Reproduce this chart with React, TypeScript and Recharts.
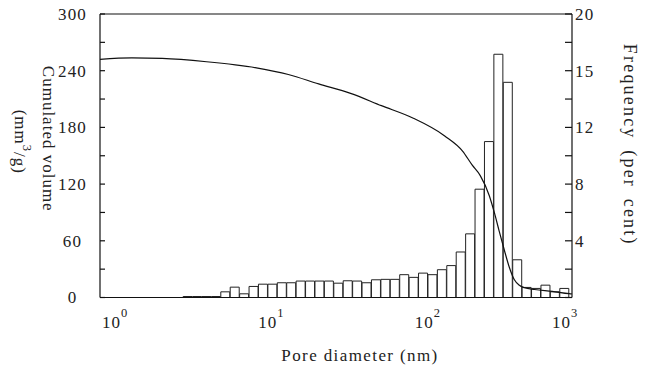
import { ComposedChart, Bar, Line, XAxis, YAxis, ReferenceLine } from 'recharts'

// histogram bins are 2^(1/5) wide, the last one closing at 1000 nm
const BIN_TOP = 1000
const BIN_STEP = Math.pow(2, 1 / 5)

// frequency (per cent), bins from left to right
const frequency = [
  0.07, 0.07, 0.07, 0.07, 0.4, 0.73, 0.26, 0.78, 0.94, 0.94, 1.04, 1.04, 1.16, 1.16,
  1.16, 1.16, 1.01, 1.18, 1.16, 1.04, 1.25, 1.28, 1.28, 1.61, 1.42, 1.72, 1.61, 1.96,
  2.25, 3.21, 4.49, 7.64, 11.0, 17.16, 15.18, 2.66, 0.71, 0.64, 0.87, 0.4, 0.64,
]

// cumulated volume curve (mm3/g) against pore diameter (nm)
const poreSize = [
  1, 1.6, 2.5, 4.8, 10, 16, 25, 40, 63, 100, 160, 208, 240, 270, 308, 332, 357, 385, 414,
  445, 480, 516, 600, 780, 1000, 1040,
]
const cumVolume = [
  252, 253.5, 253, 249.5, 243, 236, 226, 216, 203, 190, 171, 155, 140, 129, 108, 90, 70, 50,
  32, 19, 13, 10.5, 8.5, 6.5, 4, 3.8,
]

const xTicks = [1, 10, 100, 1000]
const leftTicks = [0, 30, 60, 90, 120, 150, 180, 210, 240, 270, 300]
const rightTicks = [0, 2, 4, 6, 8, 10, 12, 14, 16, 18, 20]
const rightLabels: Record<number, string> = { 4: '4', 8: '8', 12: '12', 16: '15', 20: '20' }

const binData = frequency.map((freq, i) => ({
  d: BIN_TOP / Math.pow(BIN_STEP, frequency.length - i - 0.5),
  freq,
}))
const curveData = poreSize.map((d, i) => ({ d, vol: cumVolume[i] }))

// the svg sits at (8, 8) because of the body margin
const W = 643
const H = 361
const TOP = 6
const LEFT_W = 92
const RIGHT_W = 79
const X_H = 71.5
const PLOT_BOTTOM = H - X_H
const PLOT_MID_Y = (TOP + PLOT_BOTTOM) / 2
const INK = '#111'
const TEXT = '#222'
const FONT = "'Liberation Serif', 'DejaVu Serif', serif"
const textStyle = { fontFamily: FONT }

const XTick = ({ x, y, payload }: any) => {
  const exp = Math.round(Math.log10(payload.value))
  const cx = exp === 3 ? x - 4 : x + 15
  return (
    <text x={cx} y={y + 30.5} textAnchor="middle" fontSize={17} fill={TEXT} style={textStyle} letterSpacing={1}>
      10
      <tspan dy={-11.5} fontSize={12.5}>{exp}</tspan>
    </text>
  )
}

const LeftTick = ({ x, y, payload }: any) => (
  <g>
    <line x1={x} x2={x + 5} y1={y} y2={y} stroke={INK} strokeWidth={1.2} />
    {payload.value % 60 === 0 && (
      <text x={x - 27.5} y={y} dy="0.35em" textAnchor="middle" fontSize={17} fill={TEXT} style={textStyle} letterSpacing={1.2}>
        {payload.value}
      </text>
    )}
  </g>
)

const RightTick = ({ x, y, payload }: any) => (
  <g>
    <line x1={x} x2={x - 7} y1={y} y2={y} stroke={INK} strokeWidth={1.2} />
    {rightLabels[payload.value] && (
      <text x={x + 3} y={y} dy="0.35em" textAnchor="start" fontSize={17} fill={TEXT} style={textStyle} letterSpacing={1.2}>
        {rightLabels[payload.value]}
      </text>
    )}
  </g>
)

const LeftTitle = () => {
  const c1 = { x: 40, y: PLOT_MID_Y - 17 }
  const c2 = { x: 12, y: PLOT_MID_Y - 14 }
  return (
    <g fill={TEXT} fontSize={17} style={textStyle}>
      <text x={c1.x} y={c1.y} transform={`rotate(90, ${c1.x}, ${c1.y})`} textAnchor="middle" dominantBaseline="central" letterSpacing={1}>
        Cumulated volume
      </text>
      <text x={c2.x} y={c2.y} transform={`rotate(90, ${c2.x}, ${c2.y})`} textAnchor="middle" dominantBaseline="central" letterSpacing={1}>
        (mm<tspan dy={-7} fontSize={12.5}>3</tspan>
        <tspan dy={7}>/g)</tspan>
      </text>
    </g>
  )
}

const RightTitle = () => {
  const cx = W - RIGHT_W + 58
  const cy = PLOT_MID_Y - 11
  return (
    <text x={cx} y={cy} transform={`rotate(90, ${cx}, ${cy})`} textAnchor="middle" dominantBaseline="central"
      fontSize={18} fill={TEXT} style={textStyle} letterSpacing={2.2} wordSpacing={4}>
      Frequency (per cent)
    </text>
  )
}

const XTitle = () => (
  <text x={LEFT_W + (W - LEFT_W - RIGHT_W) / 2 + 24} y={PLOT_BOTTOM + 63} textAnchor="middle"
    fontSize={17} fill={TEXT} style={textStyle} letterSpacing={1.4}>
    Pore diameter (nm)
  </text>
)

export default function App() {
  return (
    <div style={{ width: W, height: H, background: '#fff' }}>
      <style>{'.recharts-surface { overflow: visible; }'}</style>
      <ComposedChart
        width={W}
        height={H}
        data={binData}
        margin={{ top: TOP, right: 0, bottom: 0, left: 0 }}
        barCategoryGap={0}
        barGap={0}
      >
        <XAxis
          dataKey="d"
          type="number"
          scale="log"
          domain={[1, 1042]}
          allowDataOverflow
          ticks={xTicks}
          height={X_H}
          tickSize={0}
          tickMargin={0}
          tickLine={false}
          tick={<XTick />}
          axisLine={{ stroke: INK, strokeWidth: 1.2 }}
          label={{ content: XTitle }}
        />
        <XAxis xAxisId="line" dataKey="d" type="number" scale="log" domain={[1, 1042]} allowDataOverflow hide />
        <YAxis
          yAxisId="left"
          domain={[0, 300]}
          ticks={leftTicks}
          width={LEFT_W}
          tickSize={0}
          tickMargin={0}
          tickLine={false}
          tick={<LeftTick />}
          axisLine={{ stroke: INK, strokeWidth: 1.2 }}
          interval={0}
          label={{ content: LeftTitle }}
        />
        <YAxis
          yAxisId="right"
          orientation="right"
          domain={[0, 20]}
          ticks={rightTicks}
          width={RIGHT_W}
          tickSize={0}
          tickMargin={0}
          tickLine={false}
          tick={<RightTick />}
          axisLine={{ stroke: INK, strokeWidth: 1.2 }}
          interval={0}
          label={{ content: RightTitle }}
        />
        <ReferenceLine yAxisId="left" y={300} stroke={INK} strokeWidth={1.2} />
        <Bar dataKey="freq" yAxisId="right" fill="#fff" stroke="#222" strokeWidth={1} isAnimationActive={false} />
        <Line
          data={curveData}
          xAxisId="line"
          yAxisId="left"
          dataKey="vol"
          type="monotone"
          stroke={INK}
          strokeWidth={1.2}
          dot={false}
          isAnimationActive={false}
        />
      </ComposedChart>
    </div>
  )
}
